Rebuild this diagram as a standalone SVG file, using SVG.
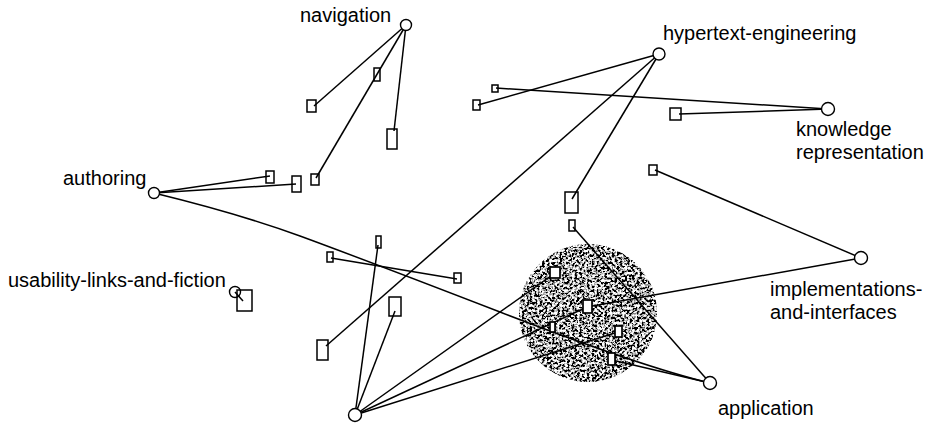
<svg xmlns="http://www.w3.org/2000/svg" width="927" height="424" viewBox="0 0 927 424">
<style>
  .lbl { font-family: "Liberation Sans", Arial, sans-serif; font-size: 20px; fill: #000; }
  .topic { fill: #fff; stroke: #000; stroke-width: 1.4; }
  .link { fill: none; stroke: #000; stroke-width: 1.5; }
  .linkw { fill: #fff; stroke: #000; stroke-width: 1.7; }
  .conn line, .conn path { stroke: #000; stroke-width: 1.5; fill: none; }
</style>
<defs>
  <filter id="stipple" x="-10%" y="-10%" width="120%" height="120%">
    <feTurbulence type="fractalNoise" baseFrequency="0.4" numOctaves="4" seed="11" result="noise"/>
    <feColorMatrix in="noise" type="matrix" values="4.5 0 0 0 -1.85  4.5 0 0 0 -1.85  4.5 0 0 0 -1.85  0 0 0 0 1" result="grey"/>
    <feComposite in="grey" in2="SourceGraphic" operator="in"/>
  </filter>
</defs>
<rect x="0" y="0" width="927" height="424" fill="#fff"/>

<g id="cluster">
  <circle cx="588" cy="313" r="69" fill="#000" filter="url(#stipple)"/>
</g>

<g id="connectors" class="conn">
  <line x1="406" y1="25" x2="314" y2="106"/>
  <line x1="406" y1="25" x2="316" y2="178"/>
  <line x1="406" y1="25" x2="394" y2="131"/>
  <line x1="659" y1="54" x2="478" y2="105"/>
  <line x1="496" y1="88" x2="828" y2="109"/>
  <line x1="679" y1="114" x2="828" y2="109"/>
  <line x1="659" y1="54" x2="326" y2="346"/>
  <line x1="659" y1="54" x2="572" y2="199"/>
  <line x1="573" y1="227" x2="710" y2="383"/>
  <line x1="655" y1="170" x2="861" y2="258"/>
  <line x1="154" y1="193" x2="270" y2="176"/>
  <line x1="154" y1="193" x2="296" y2="184"/>
  <path d="M154,193 Q240,214 300,236 T500,312 T710,383"/>
  <line x1="378" y1="245" x2="355" y2="415"/>
  <line x1="331" y1="258" x2="457" y2="279"/>
  <line x1="395" y1="311" x2="355" y2="415"/>
  <line x1="355" y1="415" x2="555" y2="273"/>
  <line x1="355" y1="415" x2="587" y2="307"/>
  <line x1="355" y1="415" x2="618" y2="332"/>
  <line x1="587" y1="307" x2="861" y2="258"/>
  <line x1="612" y1="360" x2="710" y2="383"/>
  <line x1="235" y1="292" x2="243" y2="301"/>
</g>

<g id="link-nodes">
  <rect id="l1" class="link" x="307" y="100" width="9" height="12"/>
  <rect id="l2" class="link" x="374" y="68" width="6" height="13"/>
  <rect id="l3" class="link" x="387" y="129" width="10" height="20"/>
  <rect id="l4" class="link" x="311" y="174" width="8" height="11"/>
  <rect id="l5" class="link" x="266" y="171" width="8" height="12"/>
  <rect id="l6" class="link" x="292" y="176" width="9" height="16"/>
  <rect id="l7" class="link" x="473" y="100" width="7" height="10"/>
  <rect id="l8" class="link" x="492" y="85" width="6" height="7"/>
  <rect id="l9" class="link" x="670" y="108" width="11" height="12"/>
  <rect id="l10" class="link" x="649" y="165" width="8" height="10"/>
  <rect id="l11" class="link" x="565" y="192" width="13" height="21"/>
  <rect id="l12" class="link" x="569" y="220" width="6" height="11"/>
  <rect id="l13" class="link" x="376" y="236" width="5" height="12"/>
  <rect id="l14" class="link" x="327" y="252" width="6" height="10"/>
  <rect id="l15" class="link" x="454" y="273" width="7" height="10"/>
  <rect id="l16" class="link" x="389" y="297" width="12" height="19"/>
  <rect id="l17" class="link" x="317" y="340" width="11" height="20"/>
  <rect id="l18" class="link" x="237" y="290" width="15" height="21"/>
  <rect id="l19" class="linkw" x="550" y="267" width="10" height="11"/>
  <rect id="l20" class="linkw" x="583" y="300" width="9" height="13"/>
  <rect id="l21" class="linkw" x="550" y="322" width="5" height="10"/>
  <rect id="l22" class="linkw" x="615" y="326" width="7" height="11"/>
  <rect id="l23" class="linkw" x="608" y="353" width="7" height="12"/>
</g>

<g id="navigation">
  <circle class="topic" cx="406" cy="25" r="5.5"/>
  <text class="lbl" x="300" y="22">navigation</text>
</g>
<g id="hypertext-engineering">
  <circle class="topic" cx="659" cy="54" r="6"/>
  <text class="lbl" x="663" y="40">hypertext-engineering</text>
</g>
<g id="knowledge-representation">
  <circle class="topic" cx="828" cy="109" r="6.5"/>
  <text class="lbl" x="796" y="136">knowledge</text>
  <text class="lbl" x="796" y="159">representation</text>
</g>
<g id="authoring">
  <circle class="topic" cx="154" cy="193" r="5.5"/>
  <text class="lbl" x="63" y="185">authoring</text>
</g>
<g id="usability-links-and-fiction">
  <circle class="topic" cx="235" cy="292" r="5.5" style="fill:none"/>
  <text class="lbl" x="8" y="287">usability-links-and-fiction</text>
</g>
<g id="implementations-and-interfaces">
  <circle class="topic" cx="861" cy="258" r="6.5"/>
  <text class="lbl" x="770" y="296">implementations-</text>
  <text class="lbl" x="770" y="319">and-interfaces</text>
</g>
<g id="application">
  <circle class="topic" cx="710" cy="383" r="6.5"/>
  <text class="lbl" x="718" y="415">application</text>
</g>
<g id="unnamed-topic">
  <circle class="topic" cx="355" cy="415" r="6.5"/>
</g>
</svg>
